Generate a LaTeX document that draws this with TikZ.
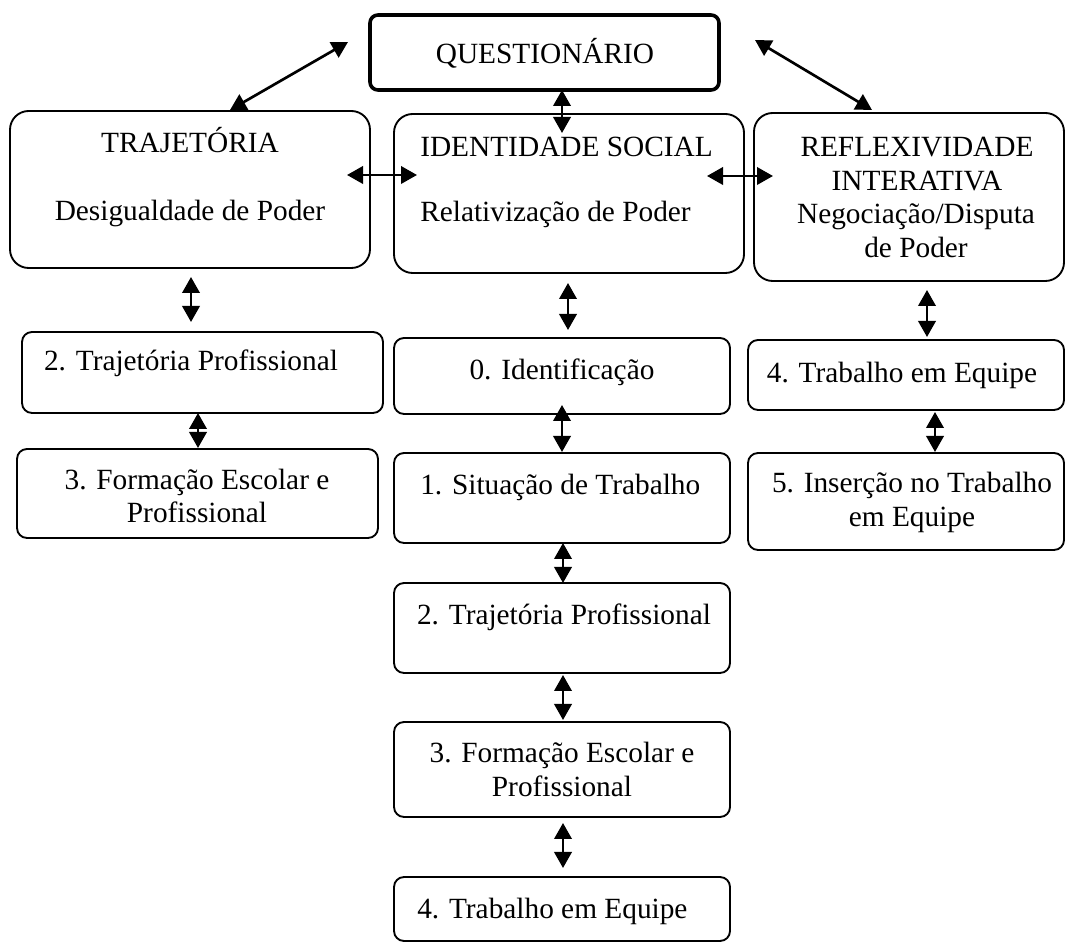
\documentclass[tikz,border=0pt]{standalone}
\usepackage{fontspec}
\setmainfont{Liberation Serif}
\usetikzlibrary{arrows.meta,fit,calc}
\begin{document}
\begin{tikzpicture}[x=0.75pt,y=-0.75pt,
  box/.style={draw, line width=1.4pt, rounded corners=7.5pt, inner sep=0pt, outer sep=0pt},
  bigbox/.style={box, rounded corners=14pt},
  qbox/.style={box, line width=2.7pt, rounded corners=6pt},
  txt/.style={anchor=base, inner sep=0pt, font=\fontsize{22}{26}\selectfont},
  txtl/.style={txt, anchor=base west},
  link/.style={line width=2pt, {Triangle[length=12pt,width=13pt]}-{Triangle[length=12pt,width=13pt]}}
]
\useasboundingbox (0,0) rectangle (1065,944);

% top box
\node[qbox, fit={(370,15)(719,90)}] (q) {};
\node[txt] (qt) at (545,64) {QUESTIONÁRIO};

% three main boxes
\node[bigbox, fit={(10,111)(370,268)}] (traj) {};
\node[txt] (traja) at (190,153) {TRAJETÓRIA};
\node[txt] (trajb) at (190,221) {Desigualdade de Poder};

\node[bigbox, fit={(394,114)(744,273)}] (ident) {};
\node[txtl] (identa) at (420,157) {IDENTIDADE SOCIAL};
\node[txtl] (identb) at (420,222) {Relativização de Poder};

\node[bigbox, fit={(754,113)(1064,281)}] (reflex) {};
\node[txt] (reflexa) at (917,157) {REFLEXIVIDADE};
\node[txt] (reflexb) at (917,191) {INTERATIVA};
\node[txt] (reflexc) at (916,224) {Negociação/Disputa};
\node[txt] (reflexd) at (916,258) {de Poder};

% left column
\node[box, fit={(22,332)(383,413)}] (l2) {};
\node[txt] (l2t) at (191,371) {2. Trajetória Profissional};
\node[box, fit={(17,449)(378,538)}] (l3) {};
\node[txt] (l3a) at (197,490) {3. Formação Escolar e};
\node[txt] (l3b) at (197,523) {Profissional};

% centre column
\node[box, fit={(394,338)(730,414)}] (c0) {};
\node[txt] (c0t) at (562,380) {0. Identificação};
\node[box, fit={(394,453)(730,543)}] (c1) {};
\node[txtl] (c1t) at (420,495) {1. Situação de Trabalho};
\node[box, fit={(394,583)(730,673)}] (c2) {};
\node[txt] (c2t) at (564,625) {2. Trajetória Profissional};
\node[box, fit={(394,722)(730,817)}] (c3) {};
\node[txt] (c3a) at (562,763) {3. Formação Escolar e};
\node[txt] (c3b) at (562,797) {Profissional};
\node[box, fit={(394,877)(730,941)}] (c4) {};
\node[txtl] (c4t) at (417,918) {4. Trabalho em Equipe};

% right column
\node[box, fit={(748,340)(1064,410)}] (r4) {};
\node[txt] (r4t) at (902,383) {4. Trabalho em Equipe};
\node[box, fit={(748,453)(1064,550)}] (r5) {};
\node[txt] (r5a) at (912,493) {5. Inserção no Trabalho};
\node[txt] (r5b) at (912,527) {em Equipe};

% connectors
\draw[link] ($(q.west)+(-22,-10.5)$) -- ($(traj.north)+(40,-1)$);
\draw[link] ($(q.east)+(36,-12.5)$) -- ($(reflex.north)+(-37,-3)$);
\draw[link] ($(q.south)+(17.5,0)$) -- ($(ident.north)+(-7,19)$);
\draw[link] ($(traj.east)+(-23,-14.5)$) -- ($(ident.west)+(23,-18.5)$);
\draw[link] ($(ident.east)+(-37,-17.5)$) -- ($(reflex.west)+(19,-21)$);

\draw[link] ($(traj.south)+(1,9)$) -- ($(l2.north)+(-11.5,-10)$);
\draw[link] ($(l2.south)+(-4.5,0)$) -- ($(l3.north)+(0.5,-1)$);

\draw[link] ($(ident.south)+(-1,10)$) -- ($(c0.north)+(6,-8)$);
\draw[link] ($(c0.south)+(0,-9)$) -- ($(c1.north)+(0,-1)$);
\draw[link] ($(c1.south)+(1,0)$) -- ($(c2.north)+(1,0)$);
\draw[link] ($(c2.south)+(1,2)$) -- ($(c3.north)+(1,-2)$);
\draw[link] ($(c3.south)+(1,6)$) -- ($(c4.north)+(1,-9)$);

\draw[link] ($(reflex.south)+(18,9)$) -- ($(r4.north)+(21,-3)$);
\draw[link] ($(r4.south)+(29,2)$) -- ($(r5.north)+(29,-1)$);
\end{tikzpicture}
\end{document}
